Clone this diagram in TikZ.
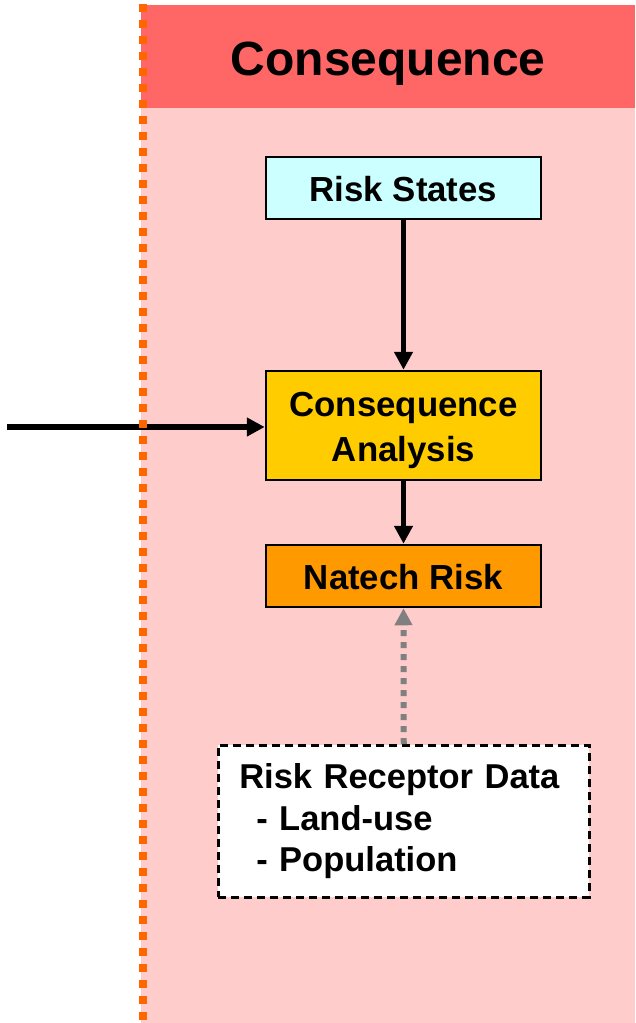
\documentclass[tikz,border=0pt]{standalone}
\usepackage{fontspec}
\setmainfont{Liberation Sans}
\usetikzlibrary{arrows.meta}
\definecolor{headred}{HTML}{FF6666}
\definecolor{bgpink}{HTML}{FFCCCC}
\definecolor{cyanbox}{HTML}{CCFFFF}
\definecolor{yellowbox}{HTML}{FFCC00}
\definecolor{orangebox}{HTML}{FF9900}
\definecolor{dotorange}{HTML}{FF6600}
\definecolor{arrowgray}{HTML}{808080}
\begin{document}
\begin{tikzpicture}[x=1pt,y=-1pt,
  box/.style={draw=black,line width=2.5pt,minimum width=275pt,inner sep=0pt,
    font=\fontsize{34.8}{45}\selectfont\bfseries,align=center},
  flow/.style={line width=5.5pt,-{Triangle[length=18pt,width=18pt]}},
  feed/.style={line width=6pt,draw=arrowgray,dash pattern=on 6pt off 6pt,
    -{Triangle[length=17pt,width=17pt,fill=arrowgray]}},
  divider/.style={line width=8pt,draw=dotorange,dash pattern=on 8pt off 8pt}]
\useasboundingbox (0,0) rectangle (635,1023);
\fill[bgpink] (141,5) rectangle (635,1023);
\node[fill=headred,minimum width=494pt,minimum height=103pt,anchor=north west,
  inner sep=0pt,text height=37.5pt,text depth=0pt,
  font=\fontsize{48}{48}\selectfont\bfseries] (hdr) at (141,5) {Consequence};
\node[box,fill=cyanbox,minimum height=62pt,text height=27pt,text depth=0pt] (rs) at (403.5,188) {Risk States};
\node[box,fill=yellowbox,minimum height=109pt,text height=72pt,text depth=0pt] (ca) at (403.5,425.5) {Consequence\\Analysis};
\node[box,fill=orangebox,minimum height=62pt,text height=27pt,text depth=0pt] (nr) at (403.5,576) {Natech Risk};
\node[draw=black,fill=white,line width=2.5pt,dash pattern=on 8pt off 5pt,
  anchor=north west,minimum width=371pt,minimum height=152pt,
  inner xsep=21pt,inner ysep=0pt,text width=329pt,align=left,
  font=\fontsize{34.5}{41.5}\selectfont\bfseries] (rrd) at (217,744)
  {Risk Receptor Data\\\hspace*{17pt}- Land-use\\\hspace*{17pt}- Population};
\coordinate (src) at (7,427);
\draw[flow] (rs.south) -- (ca.north);
\draw[flow] (ca.south) -- (nr.north);
\draw[flow] (src) -- (src -| ca.west);
\draw[feed] (rrd.north) -- (nr.south);
\coordinate (dtop) at (142.5,4);
\coordinate (dbot) at (142.5,1023);
\draw[divider] (dtop) -- (dbot);
\end{tikzpicture}
\end{document}
